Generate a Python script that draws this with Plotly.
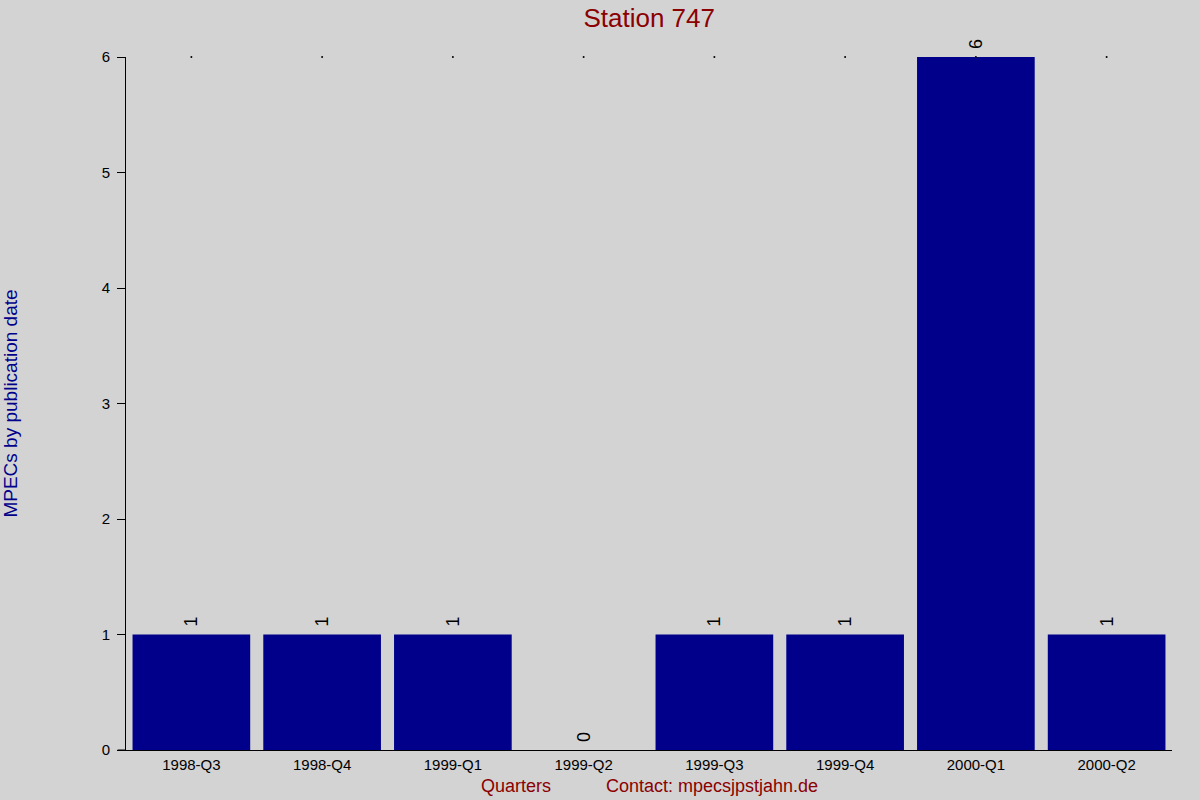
import plotly.graph_objects as go

quarters = ["1998-Q3", "1998-Q4", "1999-Q1", "1999-Q2",
            "1999-Q3", "1999-Q4", "2000-Q1", "2000-Q2"]
mpecs = [1, 1, 1, 0, 1, 1, 6, 1]
y_ticks = [0, 1, 2, 3, 4, 5, 6]

station = "Station 747"
contact = "Contact: mpecsjpstjahn.de"

bg = "#d3d3d3"
bar_col = "#00008b"
red = "#8b0000"
font = "Liberation Sans, Arial, sans-serif"

fig = go.Figure()
fig.add_trace(go.Bar(
    x=quarters, y=mpecs,
    marker=dict(color=bar_col, line=dict(width=0)),
    text=["\u00a0" + str(v) for v in mpecs],
    textposition="outside", textangle=-90, constraintext="none",
    textfont=dict(size=18, color="black", family=font),
    cliponaxis=False,
))
# the tiny dots along the top edge
fig.add_trace(go.Scatter(
    x=quarters, y=[max(y_ticks)] * len(quarters),
    mode="markers", marker=dict(size=2, color="black"),
    hoverinfo="skip", cliponaxis=False,
))

fig.update_layout(
    width=1200, height=800,
    paper_bgcolor=bg, plot_bgcolor=bg,
    showlegend=False,
    bargap=0.1,
    margin=dict(l=126, r=28, t=57, b=50),
    font=dict(family=font, size=15, color="black"),
    title=dict(text=station, x=0.541, xanchor="center", y=0.978, yanchor="middle",
               font=dict(size=26, color=red, family=font)),
    xaxis=dict(showgrid=False, zeroline=False, showline=True, linecolor="black",
               linewidth=1, ticks="", tickfont=dict(size=15), ticklabelstandoff=1,
               automargin=False),
    yaxis=dict(range=[0, 6], tickvals=y_ticks, showgrid=False, zeroline=False,
               showline=True, linecolor="black", linewidth=1,
               ticks="outside", ticklen=8, tickcolor="black",
               tickfont=dict(size=15), ticklabelstandoff=4, automargin=False,
               title=dict(text="MPECs by publication date",
                          font=dict(size=19, color=bar_col), standoff=80)),
    annotations=[
        dict(text="Quarters", xref="paper", yref="paper", x=0.373, y=-0.052,
             xanchor="center", yanchor="middle", showarrow=False,
             font=dict(size=18, color=red)),
        dict(text=contact, xref="paper", yref="paper", x=0.56, y=-0.052,
             xanchor="center", yanchor="middle", showarrow=False,
             font=dict(size=18, color=red)),
    ],
    shapes=[dict(type="line", xref="paper", yref="paper", x0=-0.008, x1=0,
                 y0=0, y1=0, line=dict(color="black", width=1))],
)

fig.write_html("out.html", config={"displayModeBar": False},
               post_script="document.body.style.margin='0';")
